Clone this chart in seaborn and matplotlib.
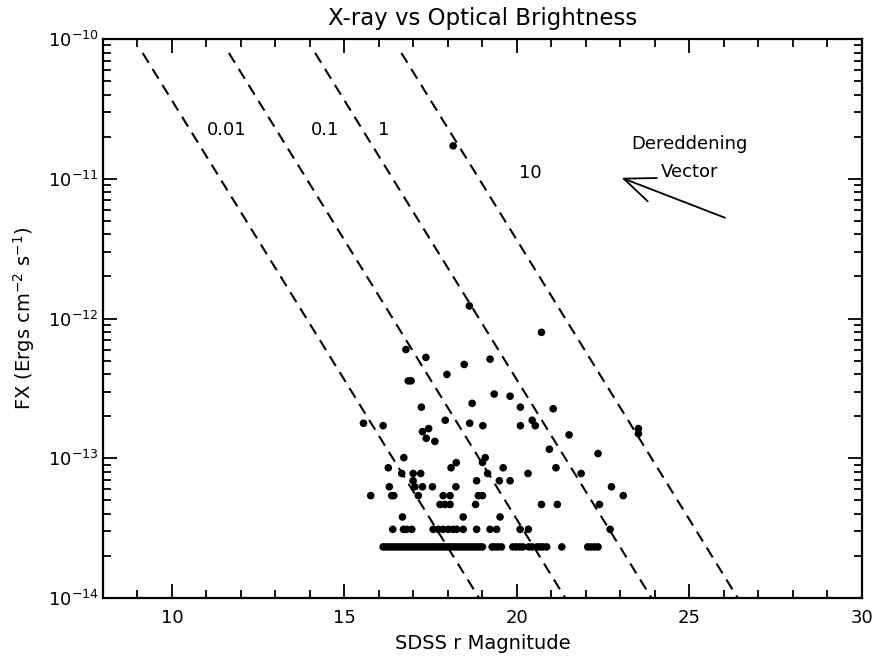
import numpy as np
import pandas as pd
import matplotlib
matplotlib.use("Agg")
import matplotlib.pyplot as plt
import seaborn as sns
from matplotlib.ticker import MultipleLocator, FixedLocator, LogFormatterMathtext

# ---------------- data ----------------
title = "X-ray vs Optical Brightness"
x_label = "SDSS r Magnitude"
y_label = r"FX (Ergs cm$^{-2}$ s$^{-1}$)"

# individual sources (r magnitude, X-ray flux)
r_upper = [18.15, 18.62, 20.71, 16.78, 17.36, 18.47, 19.22, 17.97, 16.85, 16.93,
           19.34, 19.80, 18.70, 17.23, 20.10, 21.05, 15.55, 16.12, 17.92, 18.63,
           19.01, 20.10, 20.44, 20.53, 17.44, 17.26, 17.37, 17.62, 21.51, 23.52,
           23.52, 20.94, 22.35, 16.72, 19.08, 19.00, 18.24]
fx_upper = [1.72e-11, 1.23e-12, 7.96e-13, 6.0e-13, 5.27e-13, 4.69e-13, 5.12e-13, 3.98e-13, 3.58e-13, 3.58e-13,
            2.88e-13, 2.78e-13, 2.47e-13, 2.32e-13, 2.32e-13, 2.26e-13, 1.78e-13, 1.71e-13, 1.87e-13, 1.78e-13,
            1.71e-13, 1.71e-13, 1.87e-13, 1.71e-13, 1.63e-13, 1.55e-13, 1.39e-13, 1.32e-13, 1.47e-13, 1.63e-13,
            1.50e-13, 1.16e-13, 1.08e-13, 1.01e-13, 1.01e-13, 9.33e-14, 9.3e-14]

r_mid = [16.27, 18.09, 21.13, 19.60,
         16.66, 16.99, 17.21, 19.15, 20.32, 21.86,
         16.99, 18.83, 19.49, 19.80,
         16.30, 17.04, 17.26, 17.55, 18.23, 22.74,
         15.76, 16.37, 16.43, 17.14, 17.86, 18.06, 18.88, 19.00, 23.08,
         17.77, 17.91, 18.06, 18.80, 20.71, 21.17, 22.39,
         16.68, 18.44, 19.51]
fx_mid = [8.55e-14, 8.55e-14, 8.55e-14, 8.55e-14,
          7.78e-14, 7.78e-14, 7.78e-14, 7.78e-14, 7.78e-14, 7.78e-14,
          6.9e-14, 6.9e-14, 6.9e-14, 6.9e-14,
          6.25e-14, 6.25e-14, 6.25e-14, 6.25e-14, 6.25e-14, 6.25e-14,
          5.4e-14, 5.4e-14, 5.4e-14, 5.4e-14, 5.4e-14, 5.4e-14, 5.4e-14, 5.4e-14, 5.4e-14,
          4.67e-14, 4.67e-14, 4.67e-14, 4.67e-14, 4.67e-14, 4.67e-14, 4.67e-14,
          3.8e-14, 3.8e-14, 3.8e-14]

# sources at the second-lowest flux level
r_row2 = [16.40, 16.71, 16.80, 16.95, 17.57, 17.72, 17.86, 18.01, 18.15, 18.25,
          18.44, 18.83, 19.22, 19.41, 20.09, 20.33, 22.70]
fx_row2_level = 3.1e-14

# sources at the flux limit
r_limit = [16.12, 16.20, 16.28, 16.36, 16.44, 16.52, 16.60, 16.68, 16.76, 16.84,
           16.92, 17.00, 17.08, 17.16, 17.24, 17.32, 17.40, 17.48, 17.56, 17.64,
           17.72, 17.80, 17.88, 17.96, 18.04, 18.12, 18.20, 18.28, 18.36, 18.44,
           18.52, 18.60, 18.68, 18.76, 18.84, 18.92, 19.00,
           19.28, 19.36, 19.45, 19.55, 19.88, 19.98, 20.08, 20.17,
           20.34, 20.44, 20.58, 20.66, 20.75, 20.86, 21.30,
           22.05, 22.15, 22.25, 22.35]
fx_limit_level = 2.32e-14

# constant fx/fopt lines
ratios = [0.01, 0.1, 1, 10]
ratio_labels = ["0.01", "0.1", "1", "10"]
ratio_label_r = [11.58, 14.43, 16.14, 20.38]
ratio_label_fx = [2.23e-11, 2.23e-11, 2.23e-11, 1.10e-11]
zero_point = 4.44          # log fx = log(ratio) - zero_point - 0.4 r
line_top_logfx = -10.1

# dereddening vector
vec_tail = (26.03, 5.26e-12)
vec_tip = (23.03, 1.016e-11)
vec_text = "Dereddening\nVector"
vec_text_pos = (24.99, 1.41e-11)

x_ticks = [10, 15, 20, 25, 30]
y_ticks = [1e-14, 1e-13, 1e-12, 1e-11, 1e-10]
x_lim = (8, 30)
y_lim = (1e-14, 1e-10)

# ---------------- build table ----------------
r_all = r_upper + r_mid + r_row2 + r_limit
fx_all = fx_upper + fx_mid + [fx_row2_level] * len(r_row2) + [fx_limit_level] * len(r_limit)
df = pd.DataFrame({"r": r_all, "fx": fx_all})

rows = []
for ratio in ratios:
    r_start = (np.log10(ratio) - zero_point - line_top_logfx) / 0.4
    r_end = (np.log10(ratio) - zero_point + 14.3) / 0.4
    for rr in (r_start, r_end):
        rows.append({"ratio": str(ratio), "r": rr,
                     "fx": 10 ** (np.log10(ratio) - zero_point - 0.4 * rr)})
lines_df = pd.DataFrame(rows)

# ---------------- plot ----------------
sns.set_style("ticks")
plt.rcParams["font.family"] = ["DejaVu Sans"]
plt.rcParams["mathtext.default"] = "regular"
plt.rcParams["text.color"] = "black"
plt.rcParams["axes.labelcolor"] = "black"
plt.rcParams["xtick.color"] = "black"
plt.rcParams["ytick.color"] = "black"

fig = plt.figure(figsize=(8.75, 6.58), dpi=100)
ax = fig.add_axes([0.1177, 0.0912, 0.8674, 0.8495])

for ratio in ratios:
    sub = lines_df[lines_df["ratio"] == str(ratio)]
    ax.plot(sub["r"], sub["fx"], color="black", lw=1.5, dashes=(5.5, 3.5))

sns.scatterplot(data=df, x="r", y="fx", ax=ax, color="black", s=30,
                edgecolor="none", linewidth=0, legend=False)

ax.set_yscale("log")
ax.set_xlim(*x_lim)
ax.set_ylim(*y_lim)

for lab, lx, ly in zip(ratio_labels, ratio_label_r, ratio_label_fx):
    ax.text(lx, ly, lab, ha="center", va="center", fontsize=13, color="black")

ax.annotate("", xy=vec_tip, xytext=vec_tail,
            arrowprops=dict(arrowstyle="->,head_length=1.1,head_width=0.45",
                            color="black", lw=1.3, mutation_scale=20,
                            shrinkA=0, shrinkB=0))
ax.text(vec_text_pos[0], vec_text_pos[1], vec_text, ha="center", va="center",
        fontsize=13, linespacing=1.7, color="black")

ax.xaxis.set_major_locator(FixedLocator(x_ticks))
ax.xaxis.set_minor_locator(MultipleLocator(1))
ax.yaxis.set_major_locator(FixedLocator(y_ticks))
ax.yaxis.set_major_formatter(LogFormatterMathtext())
minor_y = [m * 10.0 ** e for e in range(-14, -10) for m in range(2, 10)]
ax.yaxis.set_minor_locator(FixedLocator(minor_y))
ax.tick_params(which="both", direction="in", top=True, right=True, width=1.3,
               labelsize=13, color="black", labelcolor="black")
ax.tick_params(which="major", length=10)
ax.tick_params(which="minor", length=6)
ax.tick_params(axis="x", which="major", pad=8)
ax.tick_params(axis="y", which="major", pad=3)
for sp in ax.spines.values():
    sp.set_linewidth(1.6)
    sp.set_color("black")

ax.set_xlabel(x_label, fontsize=14, labelpad=5, color="black")
ax.set_ylabel(y_label, fontsize=14, color="black")
ax.yaxis.set_label_coords(-0.087, 0.5)
ax.set_title(title, fontsize=16.5, pad=10, color="black")

fig.savefig("out.png", dpi=100)
